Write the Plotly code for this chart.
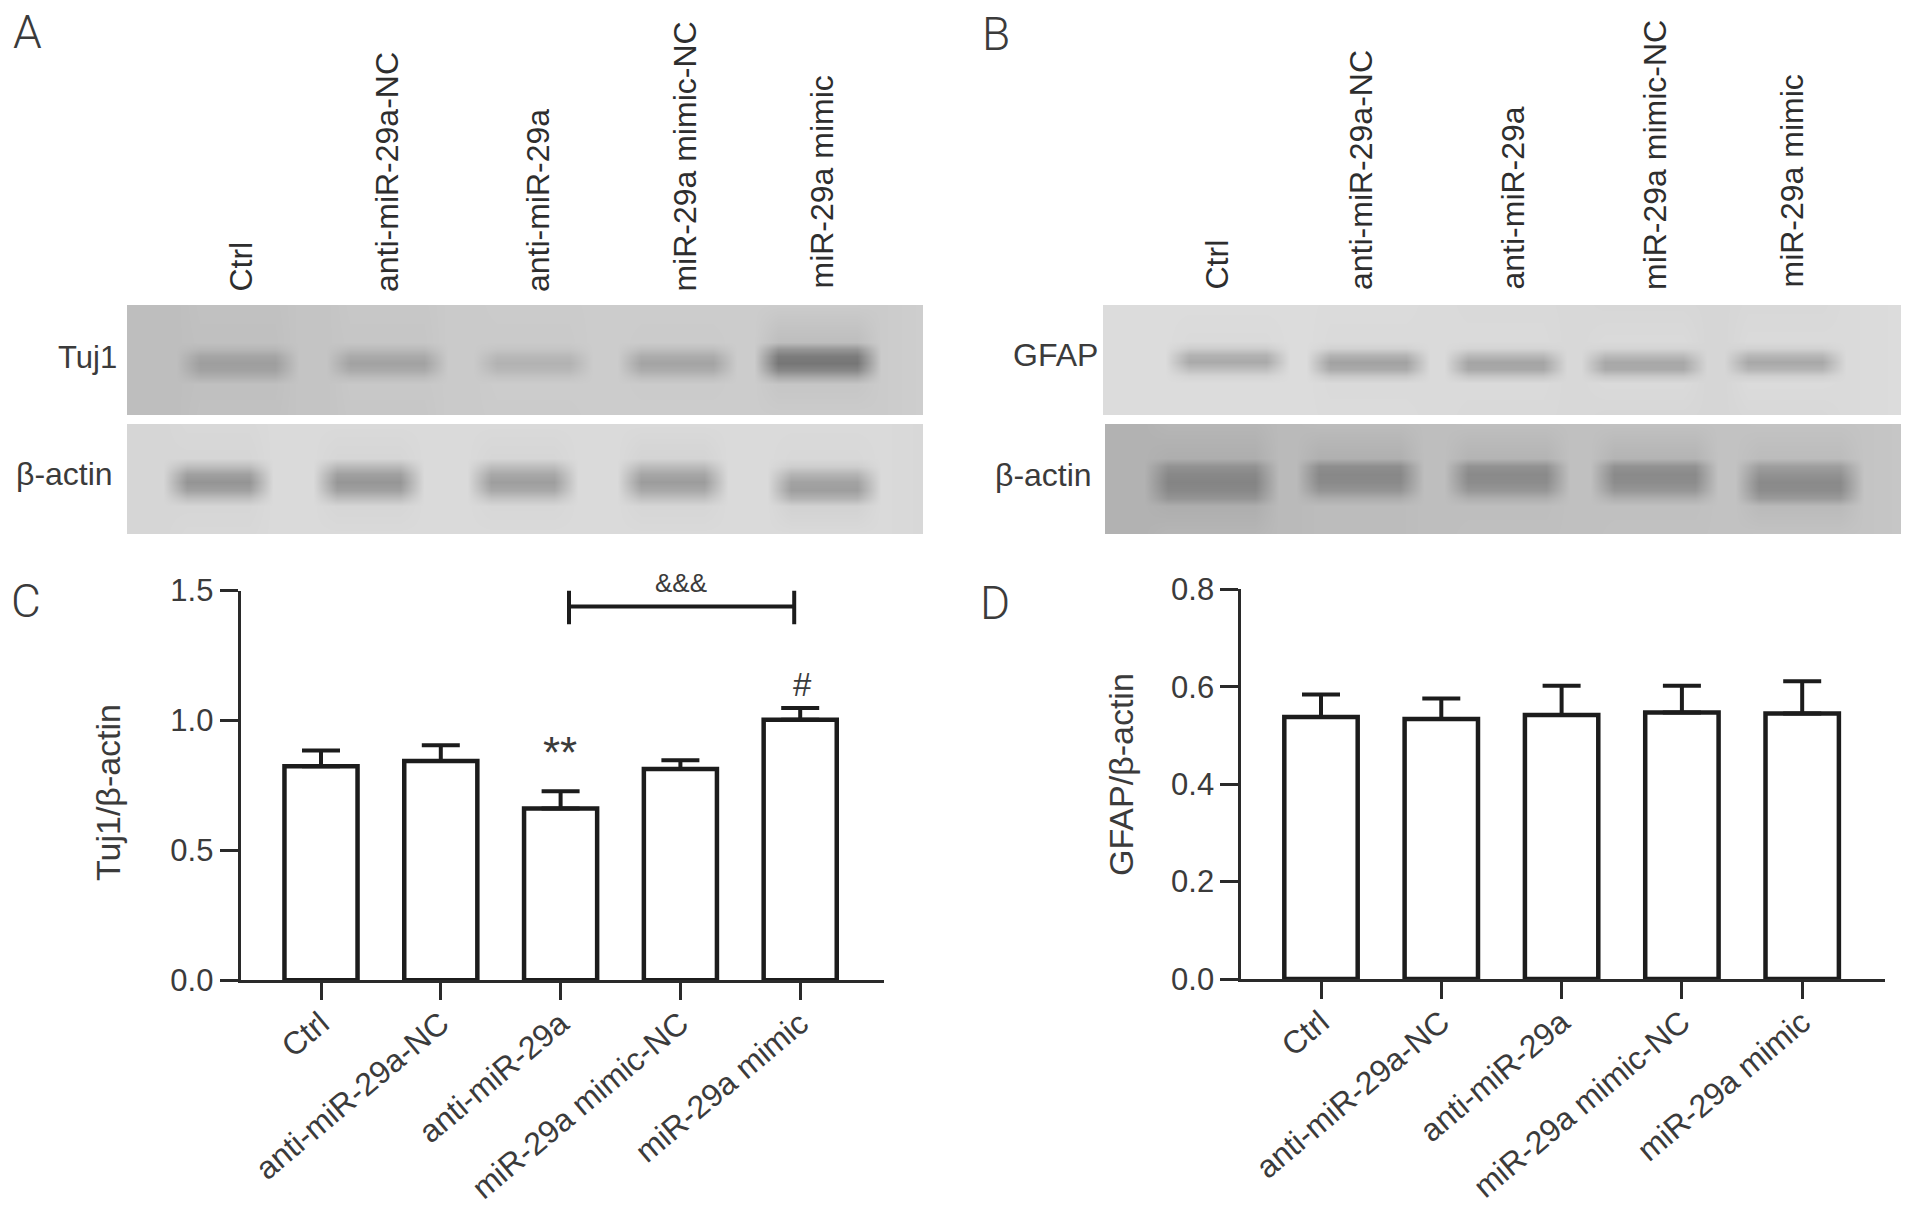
import plotly.graph_objects as go

W, H = 1913, 1217

groups = ["Ctrl", "anti-miR-29a-NC", "anti-miR-29a", "miR-29a mimic-NC", "miR-29a mimic"]
positions = [0, 1, 2, 3, 4]

tuj1_means = [0.824, 0.844, 0.661, 0.813, 1.003]
tuj1_errors = [0.060, 0.061, 0.066, 0.034, 0.045]
gfap_means = [0.538, 0.534, 0.542, 0.547, 0.545]
gfap_errors = [0.046, 0.042, 0.060, 0.055, 0.066]

tuj1_ticks = [0.0, 0.5, 1.0, 1.5]
gfap_ticks = [0.0, 0.2, 0.4, 0.6, 0.8]

# blot bands: left/right edge of each band, gray level of the gaps, gray profile down each band
tuj1_edges = [(57, 164), (207, 313), (354, 458), (498, 602), (635, 746)]
tuj1_gaps = [190, 196, 202, 204, 204, 203, 206]
tuj1_rows = [37, 44, 51, 58, 65, 72, 79]
tuj1_bands = [
    [192, 182, 165, 158, 162, 176, 192],
    [198, 186, 170, 162, 170, 188, 200],
    [202, 196, 184, 178, 184, 196, 204],
    [203, 190, 172, 164, 172, 190, 203],
    [190, 150, 124, 118, 135, 170, 198],
]

actin_a_edges = [(44, 138), (194, 289), (348, 443), (498, 593), (648, 746)]
actin_a_gaps = [214, 218, 218, 218, 218, 218, 216]
actin_a_rows = [34, 42, 50, 58, 66, 74, 82]
actin_a_bands = [
    [214, 190, 160, 148, 160, 190, 214],
    [214, 186, 160, 150, 160, 188, 214],
    [214, 190, 168, 158, 168, 194, 215],
    [212, 188, 166, 156, 168, 192, 214],
    [216, 206, 180, 162, 158, 178, 210],
]

gfap_edges = [(70, 179), (211, 319), (349, 456), (486, 596), (629, 735)]
gfap_gaps = [220, 220, 218, 216, 214, 218, 220]
gfap_rows = [36, 43, 50, 57, 64, 71, 78]
gfap_bands = [
    [218, 205, 178, 170, 190, 212, 220],
    [218, 210, 180, 162, 170, 200, 218],
    [218, 212, 186, 165, 168, 198, 218],
    [218, 212, 188, 168, 170, 200, 218],
    [218, 210, 184, 168, 180, 208, 219],
]

actin_b_edges = [(47, 166), (199, 312), (348, 458), (494, 607), (640, 753)]
actin_b_gaps = [178, 186, 190, 192, 194, 196, 198]
actin_b_rows = [34, 42, 50, 58, 66, 74, 82]
actin_b_bands = [
    [174, 146, 136, 132, 136, 148, 174],
    [176, 142, 136, 138, 148, 172, 188],
    [180, 146, 138, 140, 150, 174, 190],
    [180, 146, 138, 140, 150, 174, 192],
    [188, 158, 146, 138, 140, 154, 186],
]

DARK = "#1c1c1c"
TEXT = "#3b3b3b"
FONT = "Liberation Sans"
THIN = "Roboto"


def px(x):
    return x / W


def py(y):
    return 1 - y / H


def blot_trace(edges, gaps, rows, bands, height, width, xaxis, yaxis):
    # one column per band shoulder, gaps filled with the local background
    xs, cols = [0], [[gaps[0]] * (len(rows) + 2)]
    for i, (a, b) in enumerate(edges):
        left, right = gaps[i], gaps[i + 1]
        bg = (left + right) / 2
        xs += [a - 8, a + 16, b - 16, b + 8]
        cols += [
            [left] * (len(rows) + 2),
            [bg] + bands[i] + [bg],
            [bg] + bands[i] + [bg],
            [right] * (len(rows) + 2),
        ]
    xs.append(width)
    cols.append([gaps[-1]] * (len(rows) + 2))
    ys = [0] + rows + [height]
    z = [[col[r] for col in cols] for r in range(len(ys))]
    return go.Heatmap(
        x=xs, y=ys, z=z, xaxis=xaxis, yaxis=yaxis, zmin=0, zmax=255, zsmooth="best",
        colorscale=[[0, "rgb(0,0,0)"], [1, "rgb(255,255,255)"]],
        showscale=False, hoverinfo="skip",
    )


def bar_trace(means, errors, xaxis, yaxis):
    return go.Bar(
        x=positions, y=means, width=0.61, xaxis=xaxis, yaxis=yaxis,
        marker=dict(color="white", line=dict(color=DARK, width=4.5)),
        error_y=dict(type="data", symmetric=False, array=errors, arrayminus=[0] * 5,
                     color=DARK, thickness=4, width=19),
        cliponaxis=False, showlegend=False,
    )


fig = go.Figure()
fig.add_trace(blot_trace(tuj1_edges, tuj1_gaps, tuj1_rows, tuj1_bands, 110, 796, "x3", "y3"))
fig.add_trace(blot_trace(actin_a_edges, actin_a_gaps, actin_a_rows, actin_a_bands, 110, 796, "x4", "y4"))
fig.add_trace(blot_trace(gfap_edges, gfap_gaps, gfap_rows, gfap_bands, 110, 798, "x5", "y5"))
fig.add_trace(blot_trace(actin_b_edges, actin_b_gaps, actin_b_rows, actin_b_bands, 110, 798, "x6", "y6"))
fig.add_trace(bar_trace(tuj1_means, tuj1_errors, "x", "y"))
fig.add_trace(bar_trace(gfap_means, gfap_errors, "x2", "y2"))

# &&& bracket over the last three groups in panel C
fig.add_trace(go.Scatter(
    x=[2.07, 2.07, 2.07, 3.95, 3.95, 3.95], y=[1.5, 1.37, 1.439, 1.439, 1.5, 1.37],
    mode="lines", line=dict(color=DARK, width=4), xaxis="x", yaxis="y",
    cliponaxis=False, showlegend=False, hoverinfo="skip",
))


def x_axis(left, right, anchor, first, step):
    return dict(
        domain=[px(left), px(right)], anchor=anchor, automargin=False,
        range=[(left - first) / step, (right - first) / step],
        tickmode="array", tickvals=positions, ticktext=groups, tickangle=-40,
        ticks="outside", ticklen=17, tickwidth=3, tickcolor="#2a2a2a", ticklabelstandoff=-8,
        showline=True, linecolor="#2a2a2a", linewidth=3, showgrid=False, zeroline=False,
        tickfont=dict(family=FONT, size=32, color=TEXT),
    )


def y_axis(top, bottom, anchor, ymax, ticks, fmt):
    return dict(
        domain=[py(bottom), py(top)], anchor=anchor, range=[0, ymax], automargin=False,
        tickmode="array", tickvals=ticks, tickformat=fmt,
        ticks="outside", ticklen=18, tickwidth=3, tickcolor="#2a2a2a",
        showline=True, linecolor="#2a2a2a", linewidth=3, showgrid=False, zeroline=False,
        tickfont=dict(family=FONT, size=31, color=TEXT),
    )


def blot_axes(left, right, top, bottom, width, xname, yname):
    xa = dict(domain=[px(left), px(right)], range=[0, width], visible=False,
              fixedrange=True, anchor=yname, automargin=False)
    ya = dict(domain=[py(bottom), py(top)], range=[110, 0], visible=False,
              fixedrange=True, anchor=xname, automargin=False)
    return xa, ya


x3, y3 = blot_axes(127, 923, 305, 415, 796, "x3", "y3")
x4, y4 = blot_axes(127, 923, 424, 534, 796, "x4", "y4")
x5, y5 = blot_axes(1103, 1901, 305, 415, 798, "x5", "y5")
x6, y6 = blot_axes(1105, 1901, 424, 534, 798, "x6", "y6")


def note(text, x, y, size, font=FONT, color=TEXT, angle=0, xanchor="center", yanchor="middle", weight=None):
    return dict(
        text=text, x=px(x), y=py(y), xref="paper", yref="paper", showarrow=False,
        xanchor=xanchor, yanchor=yanchor, textangle=angle,
        font=dict(family=font, size=size, color=color, weight=weight),
    )


notes = [
    note("A", 27, 32, 46, THIN, weight=300), note("B", 996, 34, 46, THIN, weight=300),
    note("C", 26, 601, 46, THIN, weight=300), note("D", 995, 603, 46, THIN, weight=300),
    note("Tuj1", 119, 357, 31, xanchor="right"),
    note("β-actin", 115, 474, 32, xanchor="right"),
    note("GFAP", 1100, 355, 32, xanchor="right"),
    note("β-actin", 1094, 475, 32, xanchor="right"),
    note("Tuj1/β-actin", 108, 793, 34, angle=-90),
    note("GFAP/β-actin", 1121, 775, 34, angle=-90),
    note("&&&", 681, 583, 26),
    note("**", 560, 752, 44),
    note("#", 802, 684, 33),
]

# lane labels above the two blots
top_a = [(240.6, 294), (387, 294), (537.6, 294), (684.6, 294), (822, 291)]
top_b = [(1216.5, 292), (1361, 292), (1512, 292), (1655, 292), (1791, 290)]
for name, (x, y) in zip(groups, top_a):
    notes.append(note(name, x, y, 32, color="#2e2e2e", angle=-90, yanchor="bottom"))
for name, (x, y) in zip(groups, top_b):
    notes.append(note(name, x, y, 32, color="#2e2e2e", angle=-90, yanchor="bottom"))

fig.update_layout(
    width=W, height=H, margin=dict(l=0, r=0, t=0, b=0, autoexpand=False),
    paper_bgcolor="white", plot_bgcolor="white", showlegend=False,
    xaxis=x_axis(240.6, 884, "y", 321, 119.8),
    yaxis=y_axis(590.6, 980.2, "x", 1.5, tuj1_ticks, ".1f"),
    xaxis2=x_axis(1241.4, 1885, "y2", 1321, 120.3),
    yaxis2=y_axis(589.3, 979, "x2", 0.8, gfap_ticks, ".1f"),
    xaxis3=x3, yaxis3=y3, xaxis4=x4, yaxis4=y4,
    xaxis5=x5, yaxis5=y5, xaxis6=x6, yaxis6=y6,
    annotations=notes,
)

fig.write_html("out.html", config=dict(displayModeBar=False),
               post_script="document.body.style.margin='0';")
